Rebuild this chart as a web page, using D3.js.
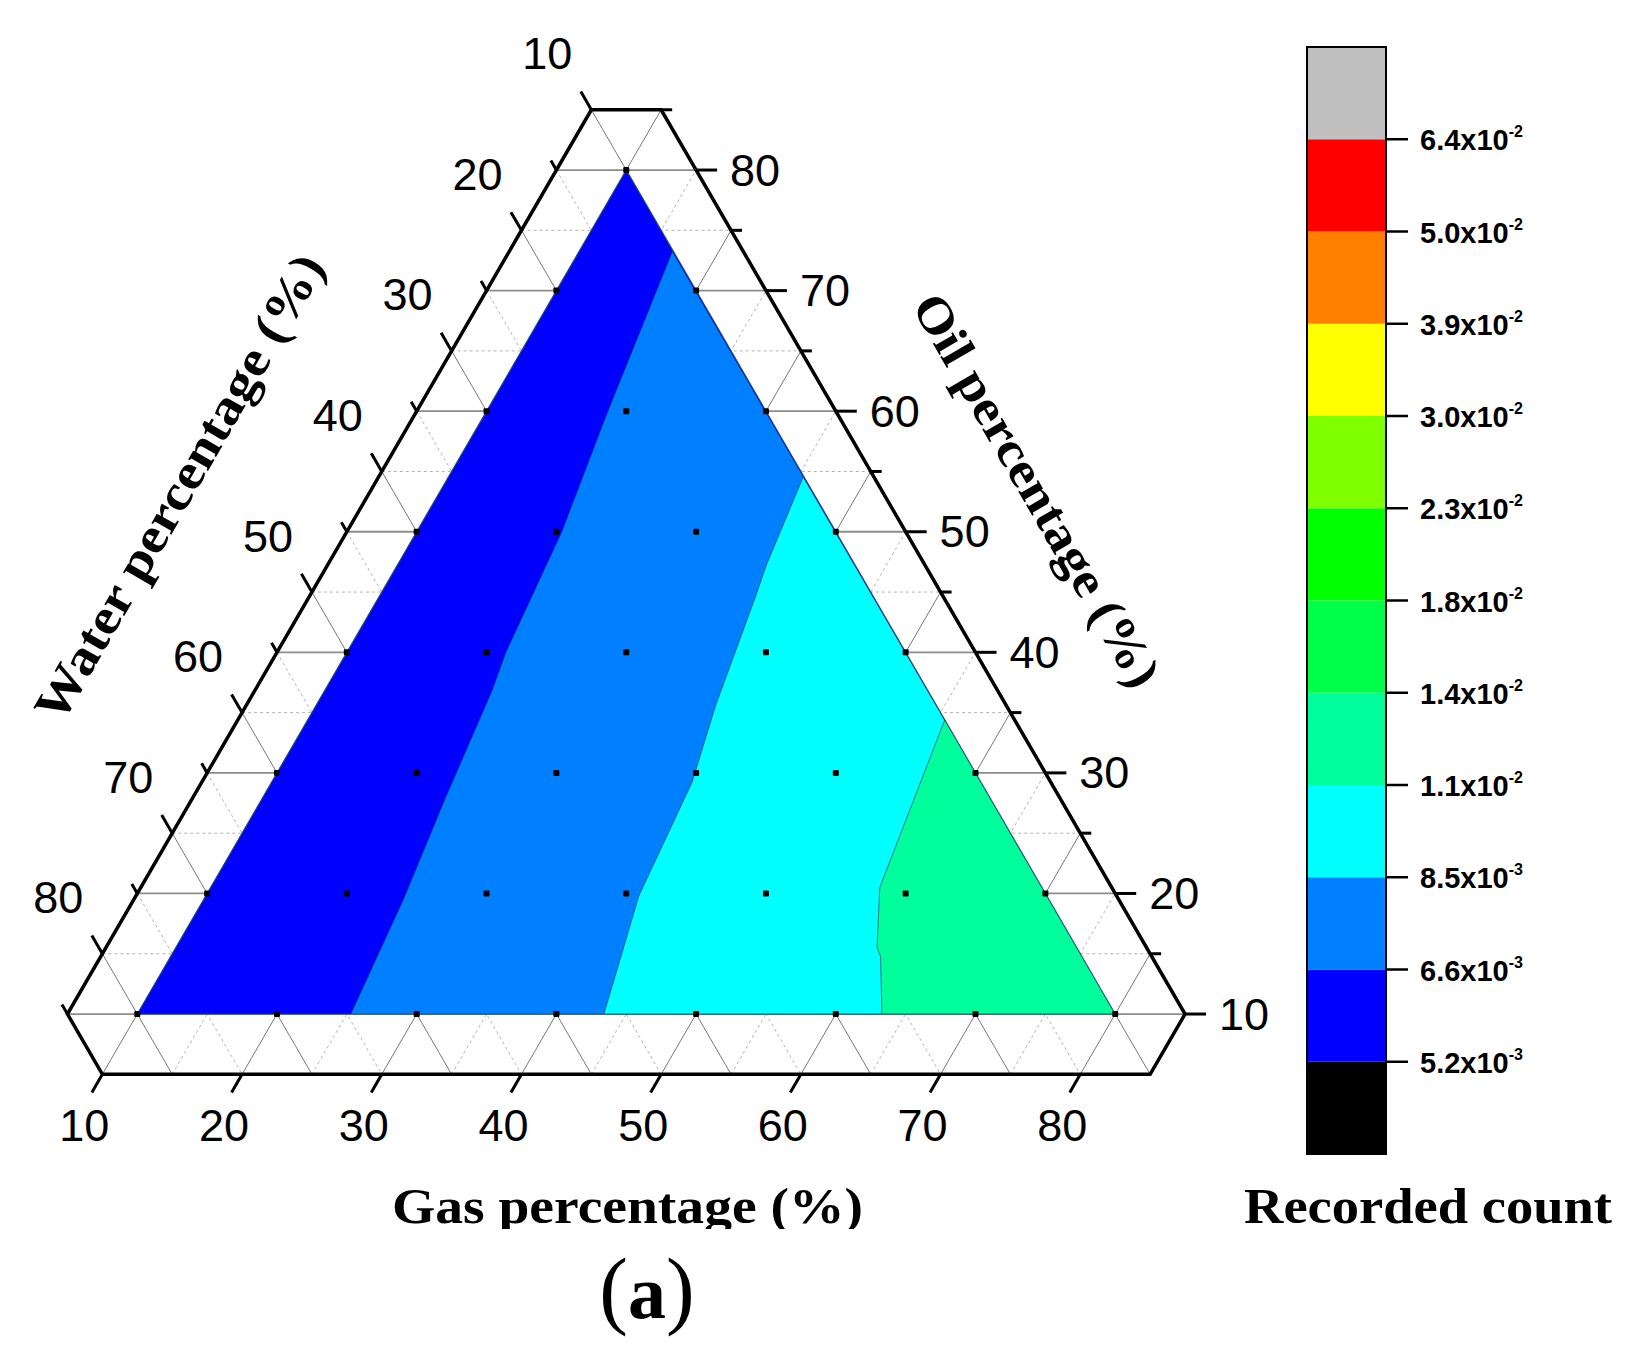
<!DOCTYPE html>
<html>
<head>
<meta charset="utf-8">
<script src="https://cdn.jsdelivr.net/npm/d3@7/dist/d3.min.js"></script>
<style>
  body { margin: 0; background: #fff; }
  svg { display: block; }
</style>
</head>
<body>
<script>
// ternary axes (percent)
const axisMin = 5;
const axisMax = 85;
const majorTicks = [10, 20, 30, 40, 50, 60, 70, 80];
const minorTicks = [15, 25, 35, 45, 55, 65, 75, 85];

// measured sample points (gas %, oil %); water = 100 - gas - oil
const sampleGas = [10,
  10, 20,
  10, 20, 30,
  10, 20, 30, 40,
  10, 20, 30, 40, 50,
  10, 20, 30, 40, 50, 60,
  10, 20, 30, 40, 50, 60, 70,
  10, 20, 30, 40, 50, 60, 70, 80];
const sampleOil = [80,
  70, 70,
  60, 60, 60,
  50, 50, 50, 50,
  40, 40, 40, 40, 40,
  30, 30, 30, 30, 30, 30,
  20, 20, 20, 20, 20, 20, 20,
  10, 10, 10, 10, 10, 10, 10, 10];

// contour boundaries, [gas, oil]
const contour66 = [[16.7, 73.2], [18.7, 60.0], [20.4, 50.0], [21.4, 40.0], [22.0, 36.8], [23.1, 28.0], [24.3, 19.6], [25.3, 10.0]];
const contour85 = [[35.4, 54.5], [36.4, 47.3], [37.0, 44.3], [38.6, 35.6], [40.1, 29.2], [41.0, 19.8], [43.4, 10.0]];
const contour110 = [[55.6, 34.4], [57.9, 20.5], [60.2, 15.5], [60.8, 14.8], [63.3, 10.0]];

// colour scale (bottom to top)
const levelColors = ['#000000', '#0000FF', '#0080FF', '#00FFFF', '#00FF9C', '#00FF48',
  '#00FF00', '#80FF00', '#FFFF00', '#FF8000', '#FF0000', '#C0C0C0'];
const levelMantissa = ['5.2', '6.6', '8.5', '1.1', '1.4', '1.8', '2.3', '3.0', '3.9', '5.0', '6.4'];
const levelExponent = ['-3', '-3', '-3', '-2', '-2', '-2', '-2', '-2', '-2', '-2', '-2'];

const width = 1626;
const height = 1367;

const svg = d3.select('body')
  .append('svg')
    .attr('width', width)
    .attr('height', height);

// x runs along gas + oil/2, y along oil
const xScale = d3.scaleLinear().domain([0, 100]).range([-72.25, -72.25 + 1397]);
const yScale = d3.scaleLinear().domain([0, 100]).range([1134.6, 1134.6 - 1205.7]);

function pt(g, o) {
  return [xScale(g + o / 2), yScale(o)];
}
function unit(a, b) {
  const dx = b[0] - a[0], dy = b[1] - a[1];
  const l = Math.sqrt(dx * dx + dy * dy);
  return [dx / l, dy / l];
}
const line = d3.line();

// grid
const grid = svg.append('g');
function gridLines(values, cls) {
  values.filter(v => v < axisMax).forEach(v => {
    const segs = [
      [pt(axisMin, v), pt(100 - axisMin - v, v)],                 // oil
      [pt(v, axisMin), pt(v, 100 - axisMin - v)],                 // gas
      [pt(axisMin, 100 - axisMin - v), pt(100 - axisMin - v, axisMin)] // water
    ];
    segs.forEach((s, k) => {
      const p = grid.append('path').attr('d', line(s)).attr('fill', 'none');
      if (cls == 'major') {
        p.attr('stroke', k == 0 ? '#8c8c8c' : '#777')
         .attr('stroke-width', k == 0 ? 1.8 : 1);
      } else {
        p.attr('stroke', '#b4b4b4')
         .attr('stroke-width', 1)
         .attr('stroke-dasharray', '3,3');
      }
    });
  });
}
gridLines(minorTicks, 'minor');
gridLines(majorTicks, 'major');

// filled contour bands
const dataTri = [pt(10, 80), pt(10, 10), pt(80, 10)];
svg.append('path')
  .attr('d', line(dataTri) + 'Z')
  .attr('fill', levelColors[1]);

[[contour66, levelColors[2]], [contour85, levelColors[3]], [contour110, levelColors[4]]].forEach(c => {
  const poly = c[0].map(d => pt(d[0], d[1])).concat([pt(80, 10)]);
  svg.append('path')
    .attr('d', line(poly) + 'Z')
    .attr('fill', c[1]);
});

[contour66, contour85, contour110].forEach(c => {
  svg.append('path')
    .attr('d', line(c.map(d => pt(d[0], d[1]))))
    .attr('fill', 'none')
    .attr('stroke', '#1d4f63')
    .attr('stroke-opacity', 0.75)
    .attr('stroke-width', 1);
});
svg.append('path')
  .attr('d', line(dataTri) + 'Z')
  .attr('fill', 'none')
  .attr('stroke', '#1d4f63')
  .attr('stroke-opacity', 0.8)
  .attr('stroke-width', 1.2);

// sample points
svg.append('g').selectAll('rect')
  .data(sampleGas.map((g, i) => pt(g, sampleOil[i])))
  .join('rect')
    .attr('x', d => d[0] - 3)
    .attr('y', d => d[1] - 3)
    .attr('width', 6)
    .attr('height', 6)
    .attr('rx', 1)
    .attr('fill', '#000');

// frame
const frame = [
  pt(axisMin, axisMax), pt(100 - axisMax - axisMin, axisMax),
  pt(axisMax, 100 - axisMax - axisMin), pt(axisMax, axisMin),
  pt(100 - axisMax - axisMin, axisMin), pt(axisMin, 100 - axisMax - axisMin)
];
svg.append('path')
  .attr('d', line(frame) + 'Z')
  .attr('fill', 'none')
  .attr('stroke', '#000')
  .attr('stroke-width', 3.5)
  .attr('stroke-linejoin', 'miter');

// ticks and labels
const axes = [
  { name: 'gas', minor: false, at: v => pt(v, axisMin), out: v => pt(v, axisMin - 1), off: [-18, 51] },
  { name: 'water', minor: true, at: v => pt(axisMin, 100 - axisMin - v), out: v => pt(axisMin - 1, 101 - axisMin - v), off: [-44, -56] },
  { name: 'oil', minor: true, at: v => pt(100 - axisMin - v, v), out: v => pt(101 - axisMin - v, v), off: [59, 0] }
];
const tickG = svg.append('g');
axes.forEach(ax => {
  const vals = ax.minor ? majorTicks.concat(minorTicks) : majorTicks;
  vals.forEach(v => {
    const p = ax.at(v);
    const d = unit(p, ax.out(v));
    const len = majorTicks.includes(v) ? 21 : 11;
    tickG.append('line')
      .attr('x1', p[0]).attr('y1', p[1])
      .attr('x2', p[0] + d[0] * len).attr('y2', p[1] + d[1] * len)
      .attr('stroke', '#000')
      .attr('stroke-width', 3);
  });
  tickG.selectAll('text.' + ax.name)
    .data(majorTicks)
    .join('text')
      .attr('class', ax.name)
      .attr('x', v => ax.at(v)[0] + ax.off[0])
      .attr('y', v => ax.at(v)[1] + ax.off[1])
      .attr('text-anchor', 'middle')
      .attr('dominant-baseline', 'central')
      .style('font-family', '"Liberation Sans", Arial, sans-serif')
      .style('font-size', '45px')
      .text(v => v);
});

// axis titles
const titleFont = '"Liberation Serif", "Times New Roman", serif';
svg.append('clipPath').attr('id', 'gasclip')
  .append('rect').attr('x', 0).attr('y', 0).attr('width', width).attr('height', 1229);
svg.append('text')
  .attr('x', 392)
  .attr('y', 1223)
  .attr('textLength', 471)
  .attr('lengthAdjust', 'spacingAndGlyphs')
  .attr('clip-path', 'url(#gasclip)')
  .style('font-family', titleFont)
  .style('font-weight', 'bold')
  .style('font-size', '50px')
  .text('Gas percentage (%)');

svg.append('text')
  .attr('text-anchor', 'middle')
  .attr('dominant-baseline', 'central')
  .attr('transform', 'translate(179,487) rotate(-60)')
  .attr('textLength', 530)
  .attr('lengthAdjust', 'spacingAndGlyphs')
  .style('font-family', titleFont)
  .style('font-weight', 'bold')
  .style('font-size', '50px')
  .text('Water percentage (%)');

svg.append('text')
  .attr('text-anchor', 'middle')
  .attr('dominant-baseline', 'central')
  .attr('transform', 'translate(1037,490) rotate(60)')
  .attr('textLength', 445)
  .attr('lengthAdjust', 'spacingAndGlyphs')
  .style('font-family', titleFont)
  .style('font-weight', 'bold')
  .style('font-size', '50px')
  .text('Oil percentage (%)');

// panel letter
const panel = svg.append('text')
  .attr('x', 647)
  .attr('y', 1318)
  .attr('text-anchor', 'middle')
  .style('font-family', titleFont);
panel.append('tspan').style('font-size', '86px').text('(');
panel.append('tspan').style('font-size', '76px').style('font-weight', 'bold').text('a');
panel.append('tspan').style('font-size', '86px').text(')');

// colour bar
const barX = 1307, barW = 79;
const barScale = d3.scaleLinear().domain([0, levelColors.length]).range([1154, 47]);
const bar = svg.append('g');
bar.selectAll('rect')
  .data(levelColors)
  .join('rect')
    .attr('x', barX)
    .attr('y', (d, i) => barScale(i + 1))
    .attr('width', barW)
    .attr('height', (d, i) => barScale(i) - barScale(i + 1))
    .attr('fill', d => d);
bar.append('rect')
  .attr('x', barX).attr('y', barScale(levelColors.length))
  .attr('width', barW).attr('height', barScale(0) - barScale(levelColors.length))
  .attr('fill', 'none')
  .attr('stroke', '#000')
  .attr('stroke-width', 2);

bar.selectAll('line.tick')
  .data(levelMantissa)
  .join('line')
    .attr('class', 'tick')
    .attr('x1', barX + barW).attr('x2', barX + barW + 22)
    .attr('y1', (d, i) => barScale(i + 1))
    .attr('y2', (d, i) => barScale(i + 1))
    .attr('stroke', '#000')
    .attr('stroke-width', 2.5);

const lab = bar.selectAll('text.lab')
  .data(levelMantissa)
  .join('text')
    .attr('class', 'lab')
    .attr('x', barX + barW + 34)
    .attr('y', (d, i) => barScale(i + 1) + 11)
    .style('font-family', '"Liberation Sans", Arial, sans-serif')
    .style('font-weight', 'bold')
    .style('font-size', '29px');
lab.append('tspan').text(d => d + 'x10');
lab.append('tspan')
  .attr('dy', -13)
  .style('font-size', '16px')
  .text((d, i) => levelExponent[i]);

svg.append('text')
  .attr('x', 1244)
  .attr('y', 1223)
  .attr('textLength', 368)
  .attr('lengthAdjust', 'spacingAndGlyphs')
  .style('font-family', titleFont)
  .style('font-weight', 'bold')
  .style('font-size', '50px')
  .text('Recorded count');
</script>
</body>
</html>
